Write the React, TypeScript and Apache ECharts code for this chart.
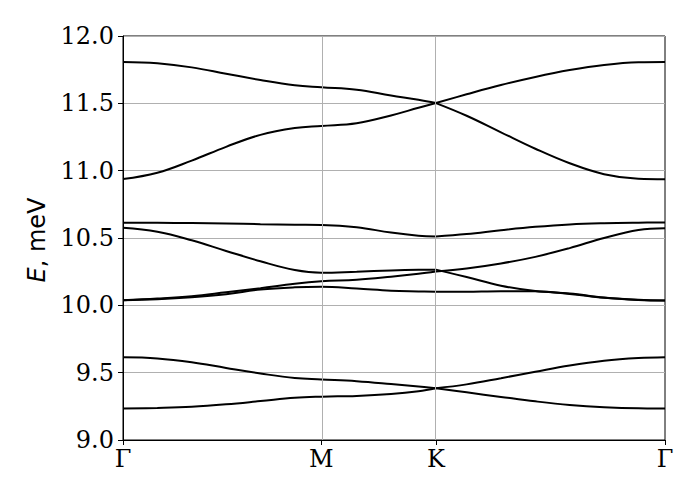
import React, { useEffect, useRef } from "react";
import * as echarts from "echarts";

// High-symmetry points along the path (path length units) and their labels
const kTicks = [0, 0.5774, 0.9107, 1.5774];
const kLabels = ["Γ", "M", "K", "Γ"];

// Sampling points along Γ–M–K–Γ
const kPath = [0, 0.1, 0.2, 0.3, 0.4, 0.5, 0.5774, 0.68, 0.78, 0.86, 0.9107, 1.0, 1.1, 1.2, 1.3, 1.4, 1.5, 1.5774];
const kIndexK = 10;

// Energies (meV) for each band along kPath
const bandA = [11.807, 11.797, 11.767, 11.72, 11.673, 11.634, 11.619, 11.601, 11.558, 11.527, 11.502, 11.567, 11.636, 11.696, 11.747, 11.785, 11.805, 11.807];
const bandB = [10.938, 10.985, 11.075, 11.177, 11.266, 11.316, 11.332, 11.352, 11.41, 11.467, 11.502, 11.408, 11.285, 11.163, 11.055, 10.974, 10.94, 10.937];
const bandC = [10.614, 10.613, 10.611, 10.608, 10.603, 10.599, 10.597, 10.58, 10.54, 10.517, 10.512, 10.53, 10.558, 10.583, 10.601, 10.61, 10.614, 10.615];
const bandD = [10.576, 10.546, 10.483, 10.404, 10.327, 10.262, 10.242, 10.25, 10.259, 10.264, 10.265, 10.21, 10.146, 10.106, 10.088, 10.058, 10.041, 10.036];
const bandE = [10.037, 10.05, 10.068, 10.097, 10.127, 10.16, 10.178, 10.19, 10.213, 10.235, 10.252, 10.274, 10.311, 10.36, 10.425, 10.5, 10.559, 10.572];
const bandF = [10.037, 10.045, 10.06, 10.083, 10.117, 10.134, 10.138, 10.125, 10.109, 10.103, 10.1, 10.101, 10.105, 10.104, 10.085, 10.056, 10.04, 10.035];
const bandG = [9.614, 9.606, 9.578, 9.535, 9.494, 9.46, 9.45, 9.437, 9.416, 9.397, 9.385, 9.354, 9.32, 9.287, 9.26, 9.243, 9.235, 9.234];
const bandH = [9.233, 9.238, 9.247, 9.265, 9.289, 9.314, 9.322, 9.327, 9.341, 9.362, 9.385, 9.413, 9.459, 9.507, 9.553, 9.588, 9.608, 9.614];

const bands = [bandA, bandB, bandC, bandD, bandE, bandF, bandG, bandH];

const yMin = 9;
const yMax = 12;
const yStep = 0.5;

export default function App() {
  const ref = useRef<HTMLDivElement>(null);

  useEffect(() => {
    document.body.style.margin = "0";
    if (!ref.current) return;
    const chart = echarts.init(ref.current, null, { renderer: "svg" });

    const bandSeries: any[] = [];
    bands.forEach((band) => {
      const left = kPath.slice(0, kIndexK + 1).map((x, i) => [x, band[i]]);
      const right = kPath.slice(kIndexK).map((x, i) => [x, band[i + kIndexK]]);
      [left, right].forEach((d) => {
        bandSeries.push({
          type: "line",
          data: d,
          smooth: 0.4,
          showSymbol: false,
          symbol: "none",
          silent: true,
          z: 3,
          lineStyle: { color: "#000", width: 2 },
        });
      });
    });

    const gridSeries = {
      type: "line",
      data: [] as any[],
      showSymbol: false,
      silent: true,
      z: 1,
      markLine: {
        silent: true,
        symbol: ["none", "none"],
        label: { show: false },
        lineStyle: { color: "#b0b0b0", width: 1, type: "solid" },
        data: kTicks.slice(1, kTicks.length - 1).map((v) => ({ xAxis: v })),
      },
    };

    chart.setOption({
      animation: false,
      grid: {
        left: 123,
        top: 36,
        width: 542,
        height: 404,
        show: true,
        borderColor: "#000",
        borderWidth: 1,
        backgroundColor: "transparent",
      },
      graphic: [
        {
          type: "text",
          x: 37,
          y: 240,
          rotation: Math.PI / 2,
          style: {
            text: "{i|E}{n|, meV}",
            fontFamily: "DejaVu Sans",
            fontSize: 24,
            fill: "#000",
            align: "center",
            verticalAlign: "middle",
            rich: {
              i: { fontStyle: "italic", fontFamily: "DejaVu Sans", fontSize: 24 },
              n: { fontFamily: "DejaVu Sans", fontSize: 24 },
            },
          },
        },
      ],
      xAxis: {
        type: "value",
        min: kTicks[0],
        max: kTicks[kTicks.length - 1],
        axisLine: { show: true, lineStyle: { color: "#000", width: 1 } },
        axisTick: {
          show: true,
          inside: false,
          length: 5,
          customValues: kTicks,
          lineStyle: { color: "#000", width: 1 },
        },
        axisLabel: {
          show: true,
          customValues: kTicks,
          margin: 7,
          color: "#000",
          fontFamily: "DejaVu Serif",
          fontSize: 24,
          formatter: (v: number) => {
            let best = 0;
            kTicks.forEach((t, i) => {
              if (Math.abs(t - v) < Math.abs(kTicks[best] - v)) best = i;
            });
            return kLabels[best];
          },
        },
        splitLine: { show: false },
      },
      yAxis: {
        type: "value",
        min: yMin,
        max: yMax,
        interval: yStep,
        axisLine: { show: true, lineStyle: { color: "#000", width: 1 } },
        axisTick: { show: true, inside: false, length: 5, lineStyle: { color: "#000", width: 1 } },
        axisLabel: {
          color: "#000",
          fontFamily: "DejaVu Serif",
          fontSize: 24,
          margin: 9,
          formatter: (v: number) => v.toFixed(1),
        },
        splitLine: { show: true, lineStyle: { color: "#b0b0b0", width: 1 } },
      },
      series: [gridSeries, ...bandSeries],
    });

    return () => chart.dispose();
  }, []);

  return <div ref={ref} style={{ width: 700, height: 500 }} />;
}
